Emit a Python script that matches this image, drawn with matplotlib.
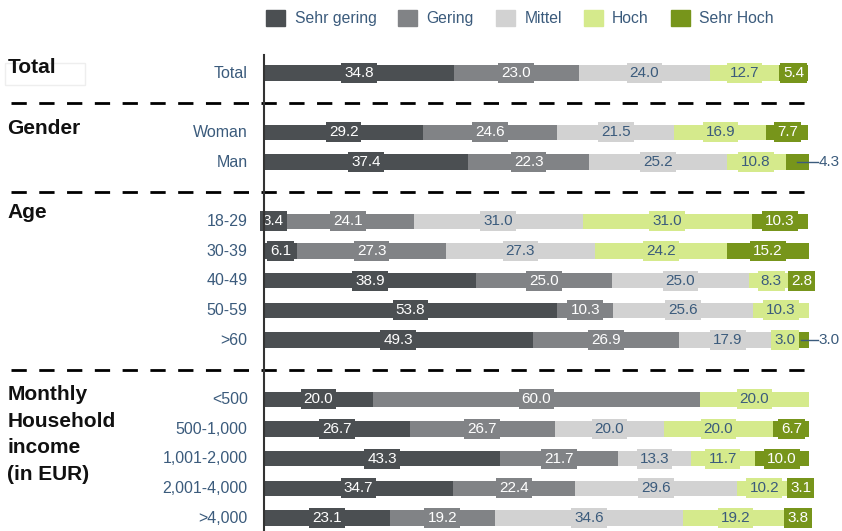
import matplotlib
matplotlib.use('Agg')
import matplotlib.pyplot as plt
import matplotlib.patches as patches

plt.rcParams['font.family'] = ['Liberation Sans', 'DejaVu Sans']

levels = ['Sehr gering', 'Gering', 'Mittel', 'Hoch', 'Sehr Hoch']
colors = ['#4b4f52', '#818386', '#d2d2d2', '#d5ea8c', '#77951b']
text_colors = ['white', 'white', '#3b5b7c', '#3b5b7c', 'white']

rows = ['Total', 'Woman', 'Man', '18-29', '30-39', '40-49', '50-59', '>60',
        '<500', '500-1,000', '1,001-2,000', '2,001-4,000', '>4,000']
sehr_gering = [34.8, 29.2, 37.4, 3.4, 6.1, 38.9, 53.8, 49.3, 20.0, 26.7, 43.3, 34.7, 23.1]
gering = [23.0, 24.6, 22.3, 24.1, 27.3, 25.0, 10.3, 26.9, 60.0, 26.7, 21.7, 22.4, 19.2]
mittel = [24.0, 21.5, 25.2, 31.0, 27.3, 25.0, 25.6, 17.9, 0.0, 20.0, 13.3, 29.6, 34.6]
hoch = [12.7, 16.9, 10.8, 31.0, 24.2, 8.3, 10.3, 3.0, 20.0, 20.0, 11.7, 10.2, 19.2]
sehr_hoch = [5.4, 7.7, 4.3, 10.3, 15.2, 2.8, 0.0, 3.0, 0.0, 6.7, 10.0, 3.1, 3.8]

groups = ['Total', 'Gender', 'Age', 'Monthly\nHousehold\nincome\n(in EUR)']
group_sizes = [1, 2, 5, 5]
title_shift = [0.52, 0.45, 0.62, 0.47]

# segments whose value is written beside the bar instead of on it
outside = {('Man', 4), ('>60', 4)}

# row positions: one unit per row, an extra unit between groups
ypos = []
seps = []
group_top = []
y = 0
for gi, n in enumerate(group_sizes):
    group_top.append(y)
    for k in range(n):
        ypos.append(y)
        y += 1
    if gi < len(group_sizes) - 1:
        seps.append(y)
        y += 1

fig = plt.figure(figsize=(8.42, 5.31), dpi=100)
W, H = 842, 531
x0, x1 = 264, 809
ytop, ybot = 55, 531
unit = 29.67
first = 73
ax = fig.add_axes([x0 / W, 0, (x1 - x0) / W, (ybot - ytop) / H])
ax.set_xlim(0, 100)
ax.set_ylim((ybot - first) / unit, -(first - ytop) / unit)
ax.axis('off')
ax.plot([0, 0], list(ax.get_ylim()), color='#333333', lw=1.5,
        clip_on=False, zorder=5)

series = [sehr_gering, gering, mittel, hoch, sehr_hoch]
bh = 0.52
for i, yy in enumerate(ypos):
    left = 0
    for s, vals in enumerate(series):
        v = vals[i]
        if v <= 0:
            continue
        ax.barh(yy, v, left=left, height=bh, color=colors[s], edgecolor='none', zorder=2)
        cx = left + v / 2
        if (rows[i], s) in outside:
            ax.plot([cx, 101.6], [yy, yy], color='#3b5b7c', lw=1, clip_on=False, zorder=4)
            ax.text(101.8, yy, '%.1f' % v, color='#3b5b7c', fontsize=11,
                    ha='left', va='center', clip_on=False)
        else:
            ax.text(cx, yy, '%.1f' % v, color=text_colors[s], fontsize=11,
                    ha='center', va='center', zorder=3,
                    bbox=dict(boxstyle='square,pad=0.2', fc=colors[s], ec='none'))
        left += v

# category labels
for r, yy in zip(rows, ypos):
    ax.text(-3.0, yy, r, ha='right', va='center', color='#3b5b7c', fontsize=11.5,
            clip_on=False)

# group titles
for g, top, sh in zip(groups, group_top, title_shift):
    ax.text(-47.1, top - sh, g, ha='left', va='top', fontsize=15,
            fontweight='bold', color='#111111', linespacing=1.5, clip_on=False)

# faint box around the first group title
fig.add_artist(patches.Rectangle((5 / W, 1 - 85 / H), 80 / W, 22 / H,
                                 transform=fig.transFigure, fill=False,
                                 ec='#eeeeee', lw=1, zorder=0))

# dashed separators
for s in seps:
    ax.plot([-46.5, 99.5], [s, s], color='black', lw=2, dashes=(5.5, 4.5),
            clip_on=False, zorder=1)

handles = [patches.Patch(color=c) for c in colors]
fig.legend(handles, levels, ncol=5, loc='center', bbox_to_anchor=(520 / W, 1 - 18 / H),
           frameon=False, fontsize=11.3, handlelength=1.2, handleheight=1.2,
           columnspacing=1.4, handletextpad=0.6, labelcolor='#3b5b7c')

fig.savefig('out.png', dpi=100)
